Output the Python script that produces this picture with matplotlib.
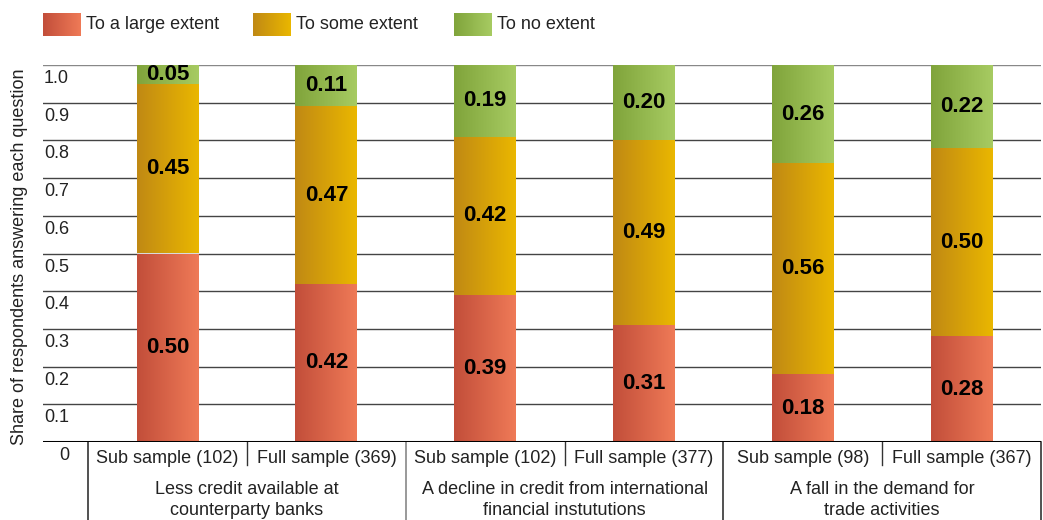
import numpy as np
import matplotlib.pyplot as plt
import matplotlib.colors as mcolors
from matplotlib.patches import Rectangle
from matplotlib.transforms import blended_transform_factory

labels = ['Sub sample (102)', 'Full sample (369)', 'Sub sample (102)',
          'Full sample (377)', 'Sub sample (98)', 'Full sample (367)']
groups = ['Less credit available at\ncounterparty banks',
          'A decline in credit from international\nfinancial instututions',
          'A fall in the demand for\ntrade activities']
large = [0.50, 0.42, 0.39, 0.31, 0.18, 0.28]
some = [0.45, 0.47, 0.42, 0.49, 0.56, 0.50]
no_ext = [0.05, 0.11, 0.19, 0.20, 0.26, 0.22]
series = ['To a large extent', 'To some extent', 'To no extent']
colors = [('#c24e3a', '#ef7a57'), ('#c08914', '#eab700'), ('#80a43b', '#a7cb62')]

plt.rcParams['font.family'] = ['Liberation Sans', 'DejaVu Sans']
txt = '#222222'


def grad(ax, x0, y0, w, h, c0, c1, z=2):
    a = np.array(mcolors.to_rgb(c0))
    b = np.array(mcolors.to_rgb(c1))
    t = np.linspace(0, 1, 128)[None, :, None]
    img = a + (b - a) * t
    im = ax.imshow(img, extent=(x0, x0 + w, y0, y0 + h), aspect='auto',
                   origin='lower', interpolation='bilinear', zorder=z)
    r = Rectangle((x0, y0), w, h, transform=ax.transData)
    im.set_clip_path(r)


fig = plt.figure(figsize=(10.43, 5.2), dpi=100)
ax = fig.add_axes([43 / 1043, 78 / 520, 998 / 1043, 377 / 520])
x = np.arange(len(labels))
bw = 0.39

# grid lines
for i in range(1, 11):
    ax.axhline(i / 10, color='#888888' if i == 10 else '#444444', lw=1.0, zorder=0)
ax.axhline(0, color='black', lw=2.2, zorder=5)

stack = [large, some, no_ext]
bottom = np.zeros(len(labels))
for vals, (c0, c1) in zip(stack, colors):
    vals = np.array(vals)
    bars = ax.bar(x, vals, bw, bottom=bottom, color='none', edgecolor='none')
    for b, v, bt in zip(bars, vals, bottom):
        grad(ax, b.get_x(), b.get_y(), b.get_width(), b.get_height(), c0, c1)
        ax.text(b.get_x() + bw / 2, bt + v / 2, f'{v:.2f}', ha='center', va='center',
                fontsize=16, fontweight='bold', color='black', zorder=4)
    bottom = bottom + vals

ax.set_xlim(-0.785, 5.5)
ax.set_ylim(0, 1)
ax.set_xticks([])
ax.set_yticks([])
for s in ax.spines.values():
    s.set_visible(False)

# y tick labels (drawn below each grid line)
yt = blended_transform_factory(ax.transAxes, ax.transData)
for i in range(0, 11):
    ax.text(0.026, i / 10 - 0.036, '0' if i == 0 else f'{i / 10:.1f}', transform=yt,
            ha='right', va='center', fontsize=13, color=txt, clip_on=False)

fig.text(20 / 1043, 1 - 257 / 520, 'Share of respondents answering each question',
         rotation=90, ha='center', va='center', fontsize=13, color=txt)

# category table below the axis
tt = blended_transform_factory(ax.transData, ax.transAxes)
for i, lab in enumerate(labels):
    ax.text(x[i], -0.045, lab, transform=tt, ha='center', va='center',
            fontsize=13, color=txt, clip_on=False)
for i in range(3):
    ax.plot([2 * i + 0.5, 2 * i + 0.5], [0, -0.061], transform=tt, color='#333333',
            lw=1, clip_on=False)
    ax.text(2 * i + 0.5, -0.153, groups[i], transform=tt, ha='center', va='center',
            fontsize=13, color=txt, linespacing=1.3, clip_on=False)
for i, xv in enumerate([-0.5, 1.5, 3.5, 5.5]):
    ax.plot([xv, xv], [0, -0.21], transform=tt, color='#888888' if i == 1 else '#333333',
            lw=1.2, clip_on=False)

# legend
lg = fig.add_axes([0, 0, 1, 1], zorder=10)
lg.set_xlim(0, 1043)
lg.set_ylim(520, 0)
lg.axis('off')
lx = [43, 253, 454]
for i, (name, (c0, c1)) in enumerate(zip(series, colors)):
    grad(lg, lx[i], 13, 38, 23, c0, c1)
    lg.text(lx[i] + 43, 24.5, name, ha='left', va='center', fontsize=13, color=txt)
lg.set_xlim(0, 1043)
lg.set_ylim(520, 0)

fig.savefig('out.png', dpi=100)
